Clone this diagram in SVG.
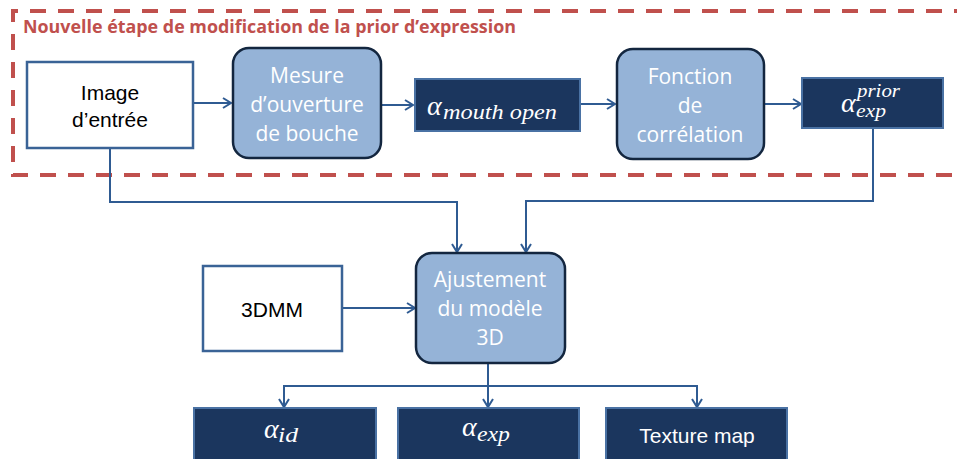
<svg xmlns="http://www.w3.org/2000/svg" width="957" height="459" viewBox="0 0 957 459">
  <defs>
    <style>
      .white { fill: #ffffff; stroke: #3a6396; stroke-width: 2.5; }
      .round { fill: #95b3d7; stroke: #13263f; stroke-width: 2.5; }
      .dark { fill: #1b365e; stroke: #4a72a4; stroke-width: 2; }
      .conn { fill: none; stroke: #2f5b92; stroke-width: 2; }
      .arial { font-family: "Liberation Sans", Arial, sans-serif; font-size: 21px; fill: #000000; text-anchor: middle; }
      .calibri { font-family: "Open Sans", "Noto Sans", sans-serif; font-size: 21px; fill: #ffffff; text-anchor: middle; }
      .math { font-family: "Liberation Serif", "DejaVu Serif", serif; font-style: italic; fill: #ffffff; }
      .white-text { font-family: "Liberation Sans", Arial, sans-serif; font-size: 21px; fill: #ffffff; text-anchor: middle; }
    </style>
    <marker id="arrow" viewBox="-10 -6 12 12" refX="0" refY="0" markerWidth="12" markerHeight="12" markerUnits="userSpaceOnUse" orient="auto">
      <path d="M-8,-5 L0,0 L-8,5" fill="none" stroke="#2f5b92" stroke-width="2"/>
    </marker>
  </defs>

  <rect width="957" height="459" fill="#ffffff"/>

  <g id="region">
    <path d="M970,11 H13 V175 H970" fill="none" stroke="#c0504d" stroke-width="4" stroke-dasharray="16 12"/>
    <text x="23" y="33" font-family="Open Sans, Noto Sans, sans-serif" font-weight="bold" font-size="17" fill="#c0504d" textLength="493" lengthAdjust="spacingAndGlyphs">Nouvelle étape de modification de la prior d’expression</text>
  </g>

  <g id="connectors">
    <path class="conn" d="M193,103 H231" marker-end="url(#arrow)"/>
    <path class="conn" d="M381,105 H413" marker-end="url(#arrow)"/>
    <path class="conn" d="M580,104 H615" marker-end="url(#arrow)"/>
    <path class="conn" d="M764,104 H801" marker-end="url(#arrow)"/>
    <path class="conn" d="M110,148 V202 H457 V252" marker-end="url(#arrow)"/>
    <path class="conn" d="M873,129 V201 H526 V252" marker-end="url(#arrow)"/>
    <path class="conn" d="M342,308 H415" marker-end="url(#arrow)"/>
    <path class="conn" d="M488,363 V407" marker-end="url(#arrow)"/>
    <path class="conn" d="M488,386 H284 V407" marker-end="url(#arrow)"/>
    <path class="conn" d="M488,386 H697 V407" marker-end="url(#arrow)"/>
  </g>

  <g id="image">
    <rect class="white" x="27" y="62" width="166" height="86"/>
    <text class="arial" x="110" y="100">Image</text>
    <text class="arial" x="110" y="127">d’entrée</text>
  </g>

  <g id="mesure">
    <rect class="round" x="233" y="48" width="148" height="110" rx="16"/>
    <text class="calibri" x="307" y="83">Mesure</text>
    <text class="calibri" x="307" y="112">d’ouverture</text>
    <text class="calibri" x="307" y="141">de bouche</text>
  </g>

  <g id="alpha-mouth">
    <rect class="dark" x="415" y="79" width="165" height="52"/>
    <text class="math"><tspan x="427" y="115" font-size="28">α</tspan><tspan x="443" y="119" font-size="21" textLength="114" lengthAdjust="spacingAndGlyphs">mouth open</tspan></text>
  </g>

  <g id="fonction">
    <rect class="round" x="617" y="49" width="147" height="110" rx="16"/>
    <text class="calibri" x="690" y="84">Fonction</text>
    <text class="calibri" x="690" y="113">de</text>
    <text class="calibri" x="690" y="142">corrélation</text>
  </g>

  <g id="alpha-prior">
    <rect class="dark" x="802" y="78" width="141" height="50"/>
    <text class="math"><tspan x="841" y="112" font-size="28">α</tspan><tspan x="857" y="97" font-size="19" textLength="43" lengthAdjust="spacingAndGlyphs">prior</tspan><tspan x="856" y="117" font-size="19" textLength="30" lengthAdjust="spacingAndGlyphs">exp</tspan></text>
  </g>

  <g id="dmm">
    <rect class="white" x="203" y="266" width="139" height="85"/>
    <text class="arial" x="272" y="317">3DMM</text>
  </g>

  <g id="ajustement">
    <rect class="round" x="416" y="253" width="149" height="110" rx="16"/>
    <text class="calibri" x="490" y="287">Ajustement</text>
    <text class="calibri" x="490" y="316">du modèle</text>
    <text class="calibri" x="490" y="345">3D</text>
  </g>

  <g id="alpha-id">
    <rect class="dark" x="194" y="408" width="182" height="62"/>
    <text class="math"><tspan x="264" y="438" font-size="28">α</tspan><tspan x="278" y="442" font-size="20" textLength="20" lengthAdjust="spacingAndGlyphs">id</tspan></text>
  </g>

  <g id="alpha-exp">
    <rect class="dark" x="398" y="408" width="181" height="62"/>
    <text class="math"><tspan x="462" y="436" font-size="28">α</tspan><tspan x="477" y="441" font-size="20" textLength="33" lengthAdjust="spacingAndGlyphs">exp</tspan></text>
  </g>

  <g id="texture">
    <rect class="dark" x="606" y="408" width="181" height="62"/>
    <text class="white-text" x="697" y="443">Texture map</text>
  </g>
</svg>
